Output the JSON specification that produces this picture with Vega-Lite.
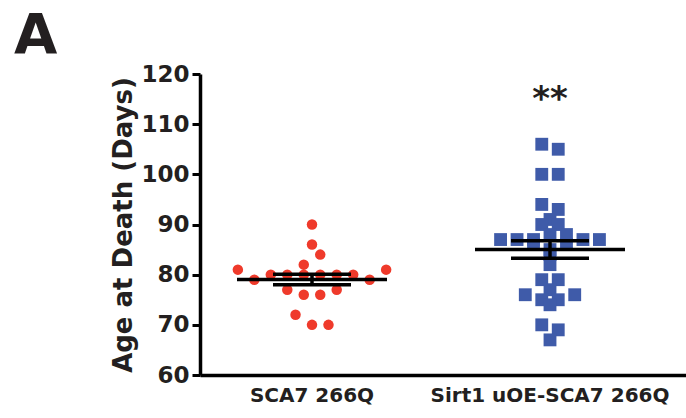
{
  "$schema": "https://vega.github.io/schema/vega-lite/v6.json",
  "autosize": {"type": "none"},
  "padding": {"left": 200, "top": 74, "right": 0, "bottom": 43},
  "width": 486,
  "height": 301,
  "background": "white",
  "config": {"view": {"stroke": null}, "font": "DejaVu Sans"},
  "title": {"text": "A", "anchor": "start", "frame": "group", "font": "DejaVu Sans", "fontSize": 56, "fontWeight": "bold", "color": "#231f20", "dx": -186, "baseline": "alphabetic", "offset": 11, "dy": 57},
  "datasets": {
    "deaths": [
      {"group": "SCA7 266Q", "value": 90},
      {"group": "SCA7 266Q", "value": 86},
      {"group": "SCA7 266Q", "value": 82},
      {"group": "SCA7 266Q", "value": 84},
      {"group": "SCA7 266Q", "value": 81},
      {"group": "SCA7 266Q", "value": 79},
      {"group": "SCA7 266Q", "value": 80},
      {"group": "SCA7 266Q", "value": 80},
      {"group": "SCA7 266Q", "value": 80},
      {"group": "SCA7 266Q", "value": 80},
      {"group": "SCA7 266Q", "value": 80},
      {"group": "SCA7 266Q", "value": 80},
      {"group": "SCA7 266Q", "value": 79},
      {"group": "SCA7 266Q", "value": 81},
      {"group": "SCA7 266Q", "value": 77},
      {"group": "SCA7 266Q", "value": 76},
      {"group": "SCA7 266Q", "value": 76},
      {"group": "SCA7 266Q", "value": 77},
      {"group": "SCA7 266Q", "value": 72},
      {"group": "SCA7 266Q", "value": 70},
      {"group": "SCA7 266Q", "value": 70},
      {"group": "Sirt1 uOE-SCA7 266Q", "value": 106},
      {"group": "Sirt1 uOE-SCA7 266Q", "value": 105},
      {"group": "Sirt1 uOE-SCA7 266Q", "value": 100},
      {"group": "Sirt1 uOE-SCA7 266Q", "value": 100},
      {"group": "Sirt1 uOE-SCA7 266Q", "value": 94},
      {"group": "Sirt1 uOE-SCA7 266Q", "value": 93},
      {"group": "Sirt1 uOE-SCA7 266Q", "value": 91},
      {"group": "Sirt1 uOE-SCA7 266Q", "value": 90},
      {"group": "Sirt1 uOE-SCA7 266Q", "value": 90},
      {"group": "Sirt1 uOE-SCA7 266Q", "value": 87},
      {"group": "Sirt1 uOE-SCA7 266Q", "value": 87},
      {"group": "Sirt1 uOE-SCA7 266Q", "value": 87},
      {"group": "Sirt1 uOE-SCA7 266Q", "value": 88},
      {"group": "Sirt1 uOE-SCA7 266Q", "value": 88},
      {"group": "Sirt1 uOE-SCA7 266Q", "value": 87},
      {"group": "Sirt1 uOE-SCA7 266Q", "value": 87},
      {"group": "Sirt1 uOE-SCA7 266Q", "value": 86},
      {"group": "Sirt1 uOE-SCA7 266Q", "value": 85},
      {"group": "Sirt1 uOE-SCA7 266Q", "value": 86},
      {"group": "Sirt1 uOE-SCA7 266Q", "value": 84},
      {"group": "Sirt1 uOE-SCA7 266Q", "value": 82},
      {"group": "Sirt1 uOE-SCA7 266Q", "value": 79},
      {"group": "Sirt1 uOE-SCA7 266Q", "value": 79},
      {"group": "Sirt1 uOE-SCA7 266Q", "value": 77},
      {"group": "Sirt1 uOE-SCA7 266Q", "value": 76},
      {"group": "Sirt1 uOE-SCA7 266Q", "value": 75},
      {"group": "Sirt1 uOE-SCA7 266Q", "value": 75},
      {"group": "Sirt1 uOE-SCA7 266Q", "value": 76},
      {"group": "Sirt1 uOE-SCA7 266Q", "value": 74},
      {"group": "Sirt1 uOE-SCA7 266Q", "value": 70},
      {"group": "Sirt1 uOE-SCA7 266Q", "value": 69},
      {"group": "Sirt1 uOE-SCA7 266Q", "value": 67}
    ],
    "marks": [
      {"group": "Sirt1 uOE-SCA7 266Q", "value": 114.8, "label": "**"}
    ]
  },
  "encoding": {
    "x": {
      "field": "group", "type": "nominal", "sort": null,
      "scale": {"domain": ["SCA7 266Q", "Sirt1 uOE-SCA7 266Q"], "paddingInner": 0.1, "paddingOuter": 0.071, "align": 0.145},
      "axis": {"title": null, "ticks": false, "labelAngle": 0, "labelFont": "DejaVu Sans", "labelFontSize": 20, "labelFontWeight": "bold", "labelColor": "#231f20", "labelPadding": 10, "domainColor": "black", "domainWidth": 3.5, "labelLimit": 400}
    }
  },
  "layer": [
    {
      "data": {"name": "deaths"},
      "transform": [
        {"calculate": "datum.group == 'SCA7 266Q' ? floor((datum.value - 78.5) / 3) : floor((datum.value - 59) / 2)", "as": "vbin"},
        {"window": [{"op": "row_number", "as": "rank"}, {"op": "count", "as": "n"}], "groupby": ["group", "vbin"], "frame": [null, null]},
        {"calculate": "datum.rank - (datum.n + 1) / 2", "as": "spread"}
      ],
      "mark": {"type": "point", "filled": true, "opacity": 1, "strokeWidth": 0},
      "encoding": {
        "xOffset": {"field": "spread", "type": "quantitative", "scale": {"domain": [-6.5, 6.5]}},
        "y": {
          "field": "value", "type": "quantitative", "title": "Age at Death (Days)",
          "scale": {"domain": [60, 120], "nice": false, "zero": false},
          "axis": {"title": "Age at Death (Days)", "values": [60, 70, 80, 90, 100, 110, 120], "grid": false, "tickSize": 8, "tickWidth": 3, "tickColor": "black", "domainColor": "black", "domainWidth": 3.5, "labelFont": "DejaVu Sans", "labelFontSize": 23, "labelFontWeight": "bold", "labelColor": "#231f20", "labelPadding": 3, "titleFont": "DejaVu Sans", "titleFontSize": 26, "titleFontWeight": "bold", "titleColor": "#231f20", "titlePadding": 4}
        },
        "shape": {"field": "group", "type": "nominal", "scale": {"domain": ["SCA7 266Q", "Sirt1 uOE-SCA7 266Q"], "range": ["circle", "square"]}, "legend": null},
        "size": {"field": "group", "type": "nominal", "scale": {"domain": ["SCA7 266Q", "Sirt1 uOE-SCA7 266Q"], "range": [110, 165]}, "legend": null},
        "color": {"field": "group", "type": "nominal", "scale": {"domain": ["SCA7 266Q", "Sirt1 uOE-SCA7 266Q"], "range": ["#EF3A2B", "#3F5BA9"]}, "legend": null}
      }
    },
    {
      "data": {"name": "deaths"},
      "mark": {"type": "errorbar", "extent": "stderr", "color": "black", "ticks": {"size": 78, "thickness": 3.5, "color": "black", "opacity": 1}, "rule": {"strokeWidth": 3.5, "color": "black"}},
      "encoding": {
        "y": {"field": "value", "type": "quantitative", "title": "Age at Death (Days)"}
      }
    },
    {
      "data": {"name": "deaths"},
      "mark": {"type": "tick", "color": "black", "size": 150, "thickness": 3.5, "opacity": 1},
      "encoding": {
        "y": {"field": "value", "type": "quantitative", "aggregate": "mean", "title": "Age at Death (Days)"}
      }
    },
    {
      "data": {"name": "marks"},
      "mark": {"type": "text", "font": "DejaVu Sans", "fontSize": 34, "fontWeight": "bold", "color": "#231f20", "baseline": "middle", "align": "center"},
      "encoding": {
        "y": {"field": "value", "type": "quantitative", "title": "Age at Death (Days)"},
        "text": {"field": "label"}
      }
    }
  ]
}
